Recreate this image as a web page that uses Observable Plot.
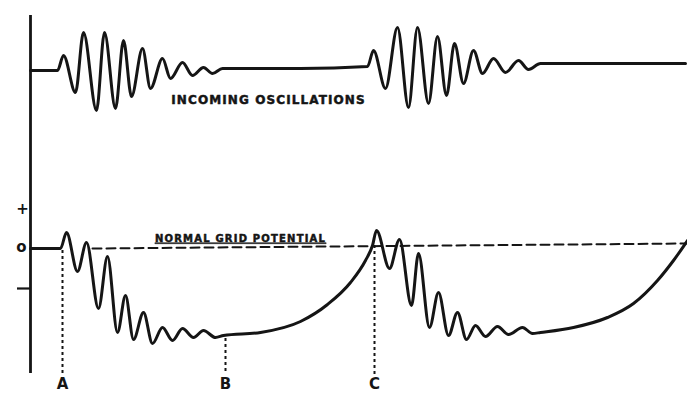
<!DOCTYPE html>
<html><head><meta charset="utf-8">
<script src="https://cdn.jsdelivr.net/npm/d3@7"></script>
<script src="https://cdn.jsdelivr.net/npm/@observablehq/plot@0.6"></script>
<style>html,body{margin:0;padding:0;background:#fff;}</style>
</head><body><div id="chart"></div>
<script>
// Incoming oscillations (top trace): time positions and levels (down = larger)
const topX = [30,57,63,75,83,96,104,115,123,131,142,150,162,170,182,192,203,212,222,300,367,373,385,397,408,417,428,437,446,454,463,473,482,493,505,518,528,540,685];
const topY = [70,70,55,92,32,110,32,108,40,96,48,88,58,78,62,75,67,73,68,68,66,50,88,27,107,27,103,36,95,43,83,50,73,58,72,60,69,63,63];
// Grid potential (bottom trace)
const gridX = [30,60,66,77,86,98,107,117,125,133,143,152,162,172,182,193,203,215,223,260,300,327,350,365,372,376,389,399,411,418,429,438,448,457,466,475,485,497,508,522,532,540,573,607,633,657,673,687];
const gridY = [248,248,232,271,242,308,256,332,295,339,312,343,327,340,328,337,330,337,335,332,321,304,282,260,245,230,268,239,305,253,327,292,335,312,339,325,336,326,334,327,333,332,327,317,303,280,260,240];
// Normal grid potential (dashed reference)
const normalX = [92,687];
const normalY = [248,243];
// Event markers
const markerLabels = ["A","B","C"];
const markerX = [62,225,374];
const markerTop = [250,338,245];
const markerBottom = [376,374,374];
// Axis
const axisX = 30, axisTop = 15, axisBottom = 373;
const signLabels = ["+","o"];
const signX = [22,21];
const signY = [209,247];
const minusTick = {x1:17, x2:30, y:288};
const titles = [
  {text:"INCOMING OSCILLATIONS", x:268, y:100, size:12, spacing:1.1},
  {text:"NORMAL GRID POTENTIAL", x:240, y:238, size:10, spacing:1.2}
];

const topData = topX.map((x,i)=>({x, y:topY[i]}));
const gridData = gridX.map((x,i)=>({x, y:gridY[i]}));
const normalData = normalX.map((x,i)=>({x, y:normalY[i]}));
const markers = markerLabels.map((l,i)=>({l, x:markerX[i], y1:markerTop[i], y2:markerBottom[i]}));
const signs = signLabels.map((s,i)=>({s, x:signX[i], y:signY[i]}));

const ink = "#151515";
const font = "DejaVu Sans";
const chart = Plot.plot({
  width: 687, height: 395,
  margin: 0,
  x: {domain:[0,687], range:[0,687], axis:null},
  y: {domain:[0,395], range:[0,395], axis:null},
  style: {background:"#fff"},
  marks: [
    Plot.ruleX([axisX], {y1: axisTop, y2: axisBottom, stroke: ink, strokeWidth: 2.8}),
    Plot.ruleY([minusTick.y], {x1: minusTick.x1, x2: minusTick.x2, stroke: ink, strokeWidth: 2.2}),
    Plot.text(signs, {x:"x", y:"y", text:"s", fontSize: 15, fontWeight:"bold", fontFamily: font, fill: ink}),
    Plot.line(normalData, {x:"x", y:"y", stroke: ink, strokeWidth: 2, strokeDasharray:"9,5"}),
    Plot.ruleX(markers, {x:"x", y1:"y1", y2:"y2", stroke: ink, strokeWidth: 2, strokeDasharray:"3,3"}),
    Plot.line(topData, {x:"x", y:"y", curve:"monotone-x", stroke: ink, strokeWidth: 3}),
    Plot.line(gridData, {x:"x", y:"y", curve:"monotone-x", stroke: ink, strokeWidth: 3}),
    Plot.text(markers, {x:"x", y: d => 384, text:"l", fontSize: 15, fontWeight:"bold", fontFamily: font, fill: ink}),
    Plot.text(titles, {x:"x", y:"y", text:"text", fontSize: d => d.size, fontWeight:"bold", fontFamily: font, fill: ink, stroke: ink, strokeWidth: 0.5})
  ]
});
d3.select(chart).selectAll("text").each(function() {
  const t = titles.find(d => d.text === this.textContent);
  if (t) {
    d3.select(this).attr("font-size", t.size).style("letter-spacing", t.spacing + "px");
    if (t.text.startsWith("NORMAL")) d3.select(this).style("text-decoration", "underline");
  }
});
document.getElementById("chart").appendChild(chart);
</script></body></html>
